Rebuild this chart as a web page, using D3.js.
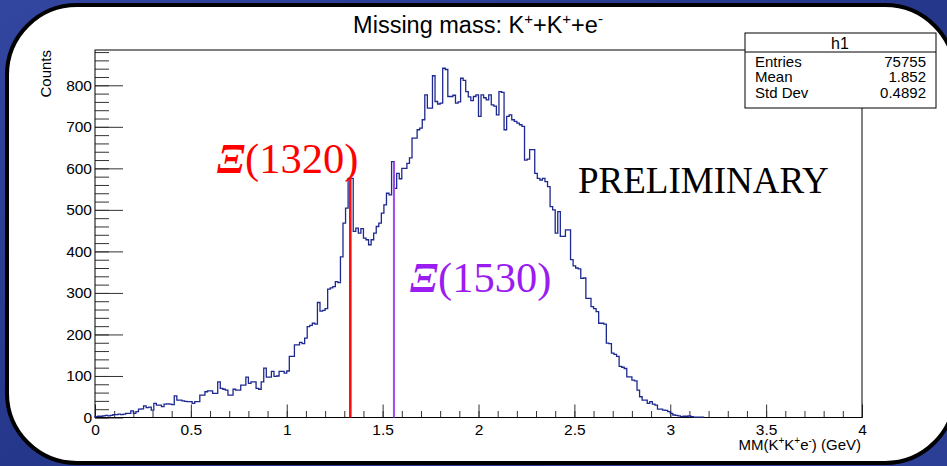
<!DOCTYPE html>
<html>
<head>
<meta charset="utf-8">
<script src="https://cdn.jsdelivr.net/npm/d3@7"></script>
<style>
  html, body { margin: 0; padding: 0; background: #24347f; }
  svg { display: block; }
</style>
</head>
<body>
<div id="chart"></div>
<script>
"use strict";
// Missing mass histogram, ROOT style

// Histogram binning: 300 bins over 0..4 GeV, bins after the last listed one are empty
var binLo = 0;
var binHi = 4;
var nBins = 300;

// bin contents, bin 0 upwards
var counts = [
  2, 3, 3, 4, 5, 4, 5, 7, 7, 8,
  7, 8, 10, 10, 16, 10, 14, 20, 21, 28,
  24, 25, 18, 34, 30, 30, 26, 32, 33, 32,
  31, 52, 42, 42, 40, 39, 38, 38, 34, 38,
  38, 54, 54, 62, 64, 64, 58, 58, 86, 70,
  68, 66, 54, 54, 68, 66, 66, 78, 78, 97,
  82, 86, 86, 70, 68, 86, 119, 97, 97, 111,
  99, 100, 111, 111, 107, 112, 147, 147, 175, 175,
  181, 178, 191, 219, 222, 227, 225, 277, 256, 258,
  262, 309, 312, 315, 327, 325, 387, 468, 504, 576,
  576, 448, 456, 444, 455, 432, 428, 416, 428, 444,
  460, 468, 492, 512, 540, 536, 616, 552, 588, 575,
  600, 600, 612, 625, 673, 673, 693, 697, 717, 777,
  745, 745, 823, 761, 755, 757, 841, 838, 773, 773,
  776, 757, 760, 817, 812, 785, 772, 763, 773, 777,
  725, 777, 770, 765, 777, 753, 750, 729, 785, 783,
  693, 725, 729, 717, 713, 709, 705, 701, 620, 622,
  645, 645, 588, 576, 572, 576, 568, 556, 508, 500,
  444, 496, 436, 436, 452, 452, 380, 365, 360, 358,
  335, 336, 287, 287, 267, 262, 255, 227, 227, 225,
  179, 178, 155, 152, 147, 123, 121, 118, 98, 98,
  90, 88, 66, 50, 42, 42, 34, 38, 32, 30,
  20, 20, 18, 17, 14, 10, 6, 5, 4, 2,
  3, 3, 4, 2, 1, 1, 1, 1
];

// axis ticks
var xMajorTicks = [0, 0.5, 1, 1.5, 2, 2.5, 3, 3.5, 4];
var xTickLabels = ["0", "0.5", "1", "1.5", "2", "2.5", "3", "3.5", "4"];
var yMajorTicks = [0, 100, 200, 300, 400, 500, 600, 700, 800];
var yMax = 885;

// statistics box
var statLabels = ["Entries", "Mean", "Std Dev"];
var statValues = ["75755", "1.852", "0.4892"];

// marked resonances
var peakNames = ["(1320)", "(1530)"];
var peakLinePos = [1.3315, 1.559];
var peakColors = ["#ff0000", "#9a1cf0"];
var peakLineColors = ["#ff1010", "#a24af0"];

var W = 947, H = 466;
var margin = {left: 95, right: 862, top: 50, bottom: 417.5};

var svg = d3.select("#chart").append("svg")
    .attr("width", W)
    .attr("height", H);

// background + rounded slide panel
var defs = svg.append("defs");
var grad = defs.append("linearGradient")
    .attr("id", "bg")
    .attr("x1", "0").attr("y1", "0").attr("x2", "1").attr("y2", "1");
grad.append("stop").attr("offset", "0%").attr("stop-color", "#3246a0");
grad.append("stop").attr("offset", "50%").attr("stop-color", "#25378a");
grad.append("stop").attr("offset", "100%").attr("stop-color", "#2c3f96");

svg.append("rect")
    .attr("width", W).attr("height", H)
    .attr("fill", "url(#bg)");

svg.append("rect")
    .attr("x", 7).attr("y", 5)
    .attr("width", 948).attr("height", 458)
    .attr("rx", 70).attr("ry", 70)
    .attr("fill", "#fff")
    .attr("stroke", "#000")
    .attr("stroke-width", 4);

var x = d3.scaleLinear().domain([binLo, binHi]).range([margin.left, margin.right]);
var y = d3.scaleLinear().domain([0, yMax]).range([margin.bottom, margin.top]);

var sans = "'Liberation Sans', Arial, Helvetica, sans-serif";
var serif = "'Liberation Serif', 'Times New Roman', Times, serif";

// minor ticks
var xMinor = d3.range(0, 41).map(function(i){ return i / 10; });
var yMinor = d3.range(0, 45).map(function(i){ return i * 20; });

svg.append("g")
    .attr("transform", "translate(0," + margin.bottom + ")")
    .call(d3.axisBottom(x).tickValues(xMinor).tickSize(-6.5).tickFormat(""))
    .call(function(g){ g.select(".domain").remove(); });

svg.append("g")
    .attr("transform", "translate(" + margin.left + ",0)")
    .call(d3.axisLeft(y).tickValues(yMinor).tickSize(-14).tickFormat(""))
    .call(function(g){ g.select(".domain").remove(); });

var xAxis = svg.append("g")
    .attr("transform", "translate(0," + margin.bottom + ")")
    .call(d3.axisBottom(x).tickValues(xMajorTicks).tickSize(-13).tickPadding(6)
        .tickFormat(function(d, i){ return xTickLabels[i]; }));
xAxis.select(".domain").remove();

var yAxis = svg.append("g")
    .attr("transform", "translate(" + margin.left + ",0)")
    .call(d3.axisLeft(y).tickValues(yMajorTicks).tickSize(-28).tickPadding(3));
yAxis.select(".domain").remove();

svg.selectAll(".tick line").attr("stroke", "#333").attr("stroke-width", 1);
svg.selectAll(".tick text")
    .attr("font-family", sans)
    .attr("font-size", 15.5)
    .attr("fill", "#000");
xAxis.selectAll(".tick text").attr("dy", "0.71em").attr("y", 6);

// frame
svg.append("rect")
    .attr("x", margin.left).attr("y", margin.top)
    .attr("width", margin.right - margin.left)
    .attr("height", margin.bottom - margin.top)
    .attr("fill", "none")
    .attr("stroke", "#000")
    .attr("stroke-width", 1);

// histogram outline
var bw = (binHi - binLo) / nBins;
var pts = [[binLo, 0]];
counts.forEach(function(c, i){
    pts.push([binLo + i * bw, c]);
    pts.push([binLo + (i + 1) * bw, c]);
});
pts.push([binLo + counts.length * bw, 0]);

var line = d3.line()
    .x(function(d){ return x(d[0]); })
    .y(function(d){ return y(d[1]); });

svg.append("path")
    .datum(pts)
    .attr("d", line)
    .attr("fill", "none")
    .attr("stroke", "#1d2890")
    .attr("stroke-width", 1.3);

// resonance lines, up to the bin content
peakLinePos.forEach(function(m, i){
    var bin = Math.floor((m - binLo) / bw);
    svg.append("line")
        .attr("x1", x(m)).attr("x2", x(m))
        .attr("y1", y(0)).attr("y2", y(counts[bin]))
        .attr("stroke", peakLineColors[i])
        .attr("stroke-width", i === 0 ? 2.6 : 2);
});

// labels on the plot
var peakTextPos = [[217, 173], [410, 292]];
peakNames.forEach(function(n, i){
    var t = svg.append("text")
        .attr("x", peakTextPos[i][0]).attr("y", peakTextPos[i][1])
        .attr("font-family", serif)
        .attr("font-size", 42.5)
        .attr("fill", peakColors[i]);
    t.append("tspan").attr("font-weight", "bold").attr("font-style", "italic").text("\u039E");
    t.append("tspan").text(n);
});

svg.append("text")
    .attr("x", 578).attr("y", 193)
    .attr("font-family", serif)
    .attr("font-size", 37)
    .attr("fill", "#000")
    .text("PRELIMINARY");

// title
var title = svg.append("text")
    .attr("x", 478).attr("y", 33)
    .attr("text-anchor", "middle")
    .attr("font-family", sans)
    .attr("font-size", 23.5)
    .attr("fill", "#000");
title.append("tspan").text("Missing mass: K");
title.append("tspan").attr("font-size", 15).attr("dy", -9).text("+");
title.append("tspan").attr("dy", 9).text("+K");
title.append("tspan").attr("font-size", 15).attr("dy", -9).text("+");
title.append("tspan").attr("dy", 9).text("+e");
title.append("tspan").attr("font-size", 15).attr("dy", -9).text("-");

// axis titles
var xt = svg.append("text")
    .attr("x", 861).attr("y", 450)
    .attr("text-anchor", "end")
    .attr("font-family", sans)
    .attr("font-size", 15)
    .attr("fill", "#000");
xt.append("tspan").text("MM(K");
xt.append("tspan").attr("font-size", 10).attr("dy", -6).text("+");
xt.append("tspan").attr("dy", 6).text("K");
xt.append("tspan").attr("font-size", 10).attr("dy", -6).text("+");
xt.append("tspan").attr("dy", 6).text("e");
xt.append("tspan").attr("font-size", 10).attr("dy", -6).text("-");
xt.append("tspan").attr("dy", 6).text(") (GeV)");

svg.append("text")
    .attr("transform", "translate(51,50) rotate(-90)")
    .attr("text-anchor", "end")
    .attr("font-family", sans)
    .attr("font-size", 15)
    .attr("fill", "#000")
    .text("Counts");

// stats box
var box = svg.append("g");
box.append("rect")
    .attr("x", 745).attr("y", 33)
    .attr("width", 191).attr("height", 75)
    .attr("fill", "#fff")
    .attr("stroke", "#000")
    .attr("stroke-width", 1);
box.append("line")
    .attr("x1", 745).attr("x2", 936)
    .attr("y1", 52).attr("y2", 52)
    .attr("stroke", "#000");
box.append("text")
    .attr("x", 840).attr("y", 49)
    .attr("text-anchor", "middle")
    .attr("font-family", sans)
    .attr("font-size", 16)
    .text("h1");
statLabels.forEach(function(s, i){
    box.append("text")
        .attr("x", 755).attr("y", 67 + i * 15.3)
        .attr("font-family", sans)
        .attr("font-size", 15)
        .text(s);
    box.append("text")
        .attr("x", 926).attr("y", 67 + i * 15.3)
        .attr("text-anchor", "end")
        .attr("font-family", sans)
        .attr("font-size", 15)
        .text(statValues[i]);
});
</script>
</body>
</html>
